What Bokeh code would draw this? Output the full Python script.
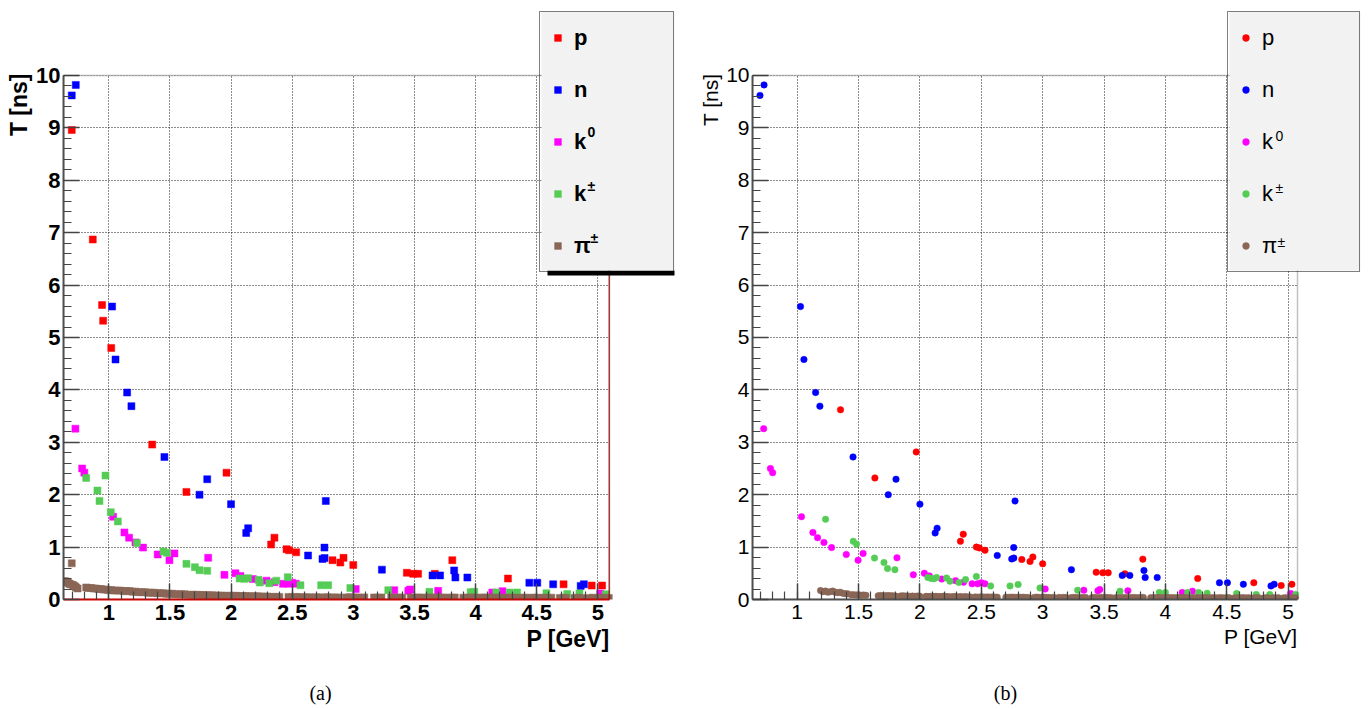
from bokeh.plotting import figure
from bokeh.models import (Range1d, SingleIntervalTicker, NumeralTickFormatter, Legend,
                          LegendItem, Label, BoxAnnotation, Title)
from bokeh.layouts import row, column
from bokeh.embed import file_html
from bokeh.resources import INLINE

# ---------------- data ----------------
# panel (a)
PROT_A_P = [0.697, 0.869, 0.945, 0.954, 1.02, 1.355, 1.635, 1.963, 2.328, 2.355,
            2.454, 2.475, 2.533, 2.83, 2.894, 2.92, 3.0, 3.438, 3.49, 3.53,
            3.667, 3.81, 4.265, 4.72, 4.95, 5.035]
PROT_A_T = [8.96, 6.87, 5.62, 5.32, 4.80, 2.956, 2.053, 2.42, 1.05, 1.18,
            0.96, 0.94, 0.90, 0.75, 0.705, 0.795, 0.66, 0.51, 0.49, 0.49,
            0.49, 0.75, 0.40, 0.29, 0.266, 0.266]

NEUT_P = [0.697, 0.73, 1.027, 1.055, 1.15, 1.185, 1.455, 1.742, 1.805, 2.0,
          2.124, 2.14, 2.63, 2.748, 2.764, 2.765, 2.775, 3.234, 3.648, 3.71,
          3.825, 3.835, 3.933, 4.44, 4.505, 4.635, 4.86, 4.886]
NEUT_T = [9.62, 9.82, 5.59, 4.58, 3.95, 3.69, 2.72, 2.0, 2.295, 1.82,
          1.27, 1.36, 0.84, 0.775, 0.99, 0.79, 1.88, 0.57, 0.46, 0.46,
          0.555, 0.42, 0.42, 0.32, 0.32, 0.29, 0.26, 0.29]

K0_P = [0.727, 0.782, 0.80, 1.035, 1.128, 1.166, 1.218, 1.28, 1.40, 1.496,
        1.537, 1.813, 1.946, 2.036, 2.077, 2.178, 2.29, 2.355, 2.425, 2.47,
        2.50, 2.53, 3.02, 3.335, 3.45, 3.465, 3.694, 4.137, 4.22, 5.02]
K0_T = [3.26, 2.50, 2.42, 1.58, 1.28, 1.18, 1.09, 0.99, 0.86, 0.75,
        0.88, 0.795, 0.47, 0.50, 0.45, 0.39, 0.36, 0.33, 0.30, 0.30,
        0.32, 0.30, 0.20, 0.178, 0.165, 0.19, 0.165, 0.134, 0.159, 0.115]

KPM_A_P = [0.815, 0.907, 0.924, 0.973, 1.016, 1.074, 1.23, 1.447, 1.477, 1.635,
           1.704, 1.742, 1.805, 2.07, 2.11, 2.14, 2.225, 2.235, 2.313, 2.37,
           2.464, 2.568, 2.737, 2.794, 2.976, 3.286, 3.623, 3.96, 3.99, 4.17,
           4.28, 4.34, 4.58, 4.75, 4.85, 5.065]
KPM_A_T = [2.32, 2.08, 1.88, 2.365, 1.665, 1.49, 1.08, 0.915, 0.89, 0.68,
           0.617, 0.56, 0.547, 0.40, 0.394, 0.407, 0.375, 0.324, 0.31, 0.36,
           0.426, 0.273, 0.273, 0.273, 0.22, 0.178, 0.146, 0.14, 0.146, 0.134,
           0.134, 0.134, 0.12, 0.107, 0.115, 0.10]

PI_A_P = [0.632, 0.641, 0.650, 0.659, 0.668, 0.677, 0.686, 0.697, 0.705, 0.714,
          0.723, 0.732, 0.745,
          0.815, 0.835, 0.855, 0.875, 0.895, 0.915, 0.935, 0.955, 0.975, 0.995,
          1.02, 1.045, 1.07, 1.095, 1.12, 1.145, 1.17, 1.195, 1.22, 1.245,
          1.27, 1.295, 1.32, 1.345, 1.37, 1.395, 1.42, 1.445, 1.47, 1.495,
          1.52, 1.545, 1.57, 1.595, 1.62, 1.645, 1.67, 1.695, 1.72, 1.745,
          1.77, 1.795, 1.82, 1.845, 1.87, 1.895, 1.92, 1.945, 1.97, 1.995,
          2.02, 2.045, 2.07, 2.095, 2.12, 2.145, 2.17, 2.195, 2.22, 2.245,
          2.27, 2.295, 2.32, 2.345, 2.37, 2.395,
          2.47, 2.50, 2.53, 2.56, 2.59, 2.62, 2.645, 2.70, 2.73, 2.76,
          2.79, 2.82, 2.85, 2.875, 2.94, 2.97, 3.00, 3.03, 3.06, 3.09,
          3.17, 3.20, 3.23, 3.31, 3.34, 3.37, 3.40, 3.47, 3.50, 3.53,
          3.56, 3.59, 3.62, 3.65, 3.68, 3.71, 3.74, 3.77, 3.80, 3.83,
          3.90, 3.93, 3.96, 3.99, 4.02, 4.05, 4.08, 4.11, 4.14, 4.17,
          4.20, 4.23, 4.26, 4.29, 4.32, 4.35, 4.38, 4.41, 4.44, 4.47,
          4.50, 4.53, 4.56, 4.59, 4.62, 4.69, 4.72, 4.74, 4.81, 4.84,
          4.87, 4.93, 4.96, 5.00, 5.03, 5.06, 5.09]
PI_A_T = [0.34, 0.35, 0.33, 0.34, 0.32, 0.30, 0.29, 0.69, 0.28, 0.26,
          0.25, 0.23, 0.21,
          0.23, 0.22, 0.22, 0.21, 0.21, 0.20, 0.20, 0.19, 0.19, 0.18,
          0.18, 0.17, 0.17, 0.17, 0.16, 0.16, 0.16, 0.15, 0.15, 0.14,
          0.14, 0.14, 0.13, 0.13, 0.13, 0.12, 0.12, 0.12, 0.11, 0.11,
          0.11, 0.10, 0.10, 0.10, 0.10, 0.09, 0.09, 0.09, 0.09, 0.085,
          0.085, 0.08, 0.08, 0.08, 0.075, 0.075, 0.075, 0.07, 0.07, 0.07,
          0.07, 0.07, 0.065, 0.065, 0.065, 0.06, 0.06, 0.06, 0.06, 0.055,
          0.055, 0.055, 0.05, 0.05, 0.05, 0.05,
          0.05, 0.045, 0.05, 0.045, 0.045, 0.04, 0.045, 0.045, 0.04, 0.04,
          0.045, 0.04, 0.04, 0.04, 0.04, 0.045, 0.04, 0.04, 0.035, 0.04,
          0.04, 0.035, 0.04, 0.04, 0.035, 0.04, 0.035, 0.04, 0.035, 0.04,
          0.035, 0.035, 0.04, 0.035, 0.035, 0.04, 0.035, 0.035, 0.035, 0.04,
          0.035, 0.035, 0.04, 0.035, 0.035, 0.035, 0.04, 0.035, 0.035, 0.035,
          0.035, 0.03, 0.035, 0.035, 0.035, 0.03, 0.035, 0.035, 0.03, 0.035,
          0.035, 0.03, 0.035, 0.03, 0.035, 0.03, 0.035, 0.03, 0.03, 0.035,
          0.03, 0.03, 0.035, 0.03, 0.03, 0.035, 0.03]

# panel (b)
PROT_B_P = [1.353, 1.633, 1.97, 2.33, 2.353, 2.46, 2.484, 2.53, 2.83, 2.897,
            2.92, 3.0, 3.436, 3.49, 3.534, 3.67, 3.816, 4.263, 4.72, 4.943,
            5.03]
PROT_B_T = [3.62, 2.32, 2.816, 1.11, 1.246, 1.0, 0.985, 0.94, 0.763, 0.725,
            0.81, 0.68, 0.52, 0.51, 0.51, 0.49, 0.77, 0.40, 0.32, 0.266,
            0.29]

KPM_B_P = [1.231, 1.457, 1.484, 1.63, 1.707, 1.736, 1.796, 2.065, 2.092, 2.114,
           2.136, 2.217, 2.245, 2.317, 2.372, 2.46, 2.576, 2.734, 2.80, 2.978,
           3.285, 3.63, 3.95, 4.0, 4.18, 4.27, 4.34, 4.58, 4.74, 4.85,
           5.06]
KPM_B_T = [1.53, 1.11, 1.055, 0.79, 0.705, 0.59, 0.57, 0.42, 0.40, 0.394,
           0.42, 0.41, 0.35, 0.325, 0.38, 0.44, 0.26, 0.26, 0.286, 0.22,
           0.178, 0.159, 0.134, 0.134, 0.134, 0.134, 0.12, 0.115, 0.096, 0.096,
           0.096]

PI_B_P = [1.19, 1.21, 1.23, 1.25, 1.27, 1.29, 1.31, 1.33, 1.35, 1.37,
          1.39, 1.41, 1.44, 1.46, 1.48, 1.50, 1.52, 1.54, 1.56, 1.66,
          1.68, 1.70, 1.72, 1.74, 1.76, 1.78, 1.80, 1.84, 1.86, 1.88,
          1.90, 1.92, 1.94, 1.96, 1.98, 2.00, 2.05, 2.07, 2.09, 2.11,
          2.13, 2.15, 2.17, 2.19, 2.21, 2.23, 2.25, 2.27, 2.29, 2.31,
          2.33, 2.35, 2.37, 2.39, 2.41, 2.45, 2.47, 2.49, 2.51, 2.53,
          2.55, 2.57, 2.59, 2.61, 2.63, 2.70, 2.72, 2.74, 2.76, 2.78,
          2.80, 2.82, 2.84, 2.86, 2.88, 2.93, 2.95, 2.97, 2.99, 3.01,
          3.03, 3.05, 3.07, 3.09, 3.13, 3.15, 3.17, 3.19, 3.23, 3.25,
          3.27, 3.29, 3.31, 3.33, 3.35, 3.40, 3.42, 3.44, 3.46, 3.48,
          3.50, 3.52, 3.54, 3.56, 3.60, 3.62, 3.64, 3.66, 3.68, 3.70,
          3.72, 3.74, 3.76, 3.78, 3.80, 3.82, 3.88, 3.90, 3.92, 3.94,
          3.96, 3.98, 4.00, 4.02, 4.04, 4.06, 4.08, 4.10, 4.12, 4.14,
          4.16, 4.18, 4.20, 4.22, 4.24, 4.26, 4.28, 4.30, 4.32, 4.34,
          4.36, 4.38, 4.40, 4.42, 4.44, 4.46, 4.48, 4.50, 4.52, 4.56,
          4.58, 4.60, 4.62, 4.64, 4.66, 4.68, 4.72, 4.74, 4.76, 4.80,
          4.82, 4.84, 4.88, 4.90, 4.92, 4.96, 4.98, 5.02, 5.04, 5.06]
PI_B_T = [0.17, 0.15, 0.16, 0.14, 0.15, 0.16, 0.14, 0.13, 0.14, 0.12,
          0.11, 0.11, 0.09, 0.09, 0.085, 0.09, 0.08, 0.085, 0.08, 0.07,
          0.075, 0.07, 0.07, 0.075, 0.07, 0.07, 0.065, 0.065, 0.07, 0.065,
          0.065, 0.06, 0.065, 0.06, 0.065, 0.06, 0.06, 0.055, 0.06, 0.055,
          0.06, 0.055, 0.055, 0.06, 0.055, 0.055, 0.05, 0.055, 0.055, 0.05,
          0.055, 0.05, 0.055, 0.05, 0.05, 0.05, 0.045, 0.05, 0.05, 0.045,
          0.05, 0.045, 0.05, 0.045, 0.045, 0.045, 0.04, 0.045, 0.045, 0.04,
          0.045, 0.04, 0.045, 0.04, 0.04, 0.04, 0.045, 0.04, 0.04, 0.045,
          0.04, 0.04, 0.035, 0.04, 0.04, 0.035, 0.04, 0.04, 0.035, 0.04,
          0.04, 0.035, 0.04, 0.035, 0.04, 0.035, 0.04, 0.035, 0.035, 0.04,
          0.035, 0.04, 0.035, 0.035, 0.04, 0.035, 0.035, 0.04, 0.035, 0.035,
          0.035, 0.04, 0.035, 0.035, 0.035, 0.04, 0.035, 0.035, 0.035, 0.04,
          0.035, 0.035, 0.035, 0.04, 0.035, 0.035, 0.035, 0.035, 0.04, 0.035,
          0.035, 0.035, 0.03, 0.035, 0.035, 0.035, 0.03, 0.035, 0.035, 0.035,
          0.03, 0.035, 0.035, 0.03, 0.035, 0.035, 0.03, 0.035, 0.035, 0.03,
          0.035, 0.03, 0.035, 0.035, 0.03, 0.035, 0.03, 0.035, 0.035, 0.03,
          0.035, 0.03, 0.035, 0.03, 0.035, 0.03, 0.035, 0.03, 0.035, 0.03]

LEGEND_BASE = ["p", "n", "k", "k", "\u03c0"]
LEGEND_SUP = [None, None, "0", "\u00b1", "\u00b1"]
X_TITLE = "P [GeV]"
Y_TITLE = "T [ns]"
CAPTIONS = ["(a)", "(b)"]
T_MAX = 10

COLORS = ["#ff0000", "#0000ff", "#ff00ff", "#55cc55", "#8a6656"]
FONT = "Liberation Sans"
SERIF = "Liberation Serif"
HAS_STANDOFF = "standoff" in Title.properties()

MAIN_H = 670      # main figure height (frame bottom at y=599)
CAP_H = 39        # caption strip height


def title(text, size, style, align, offset, standoff, font=FONT):
    kw = dict(text=text, text_font=font, text_font_size=size, text_font_style=style,
              align=align, offset=offset, text_color="black")
    if HAS_STANDOFF:
        kw["standoff"] = standoff
    return Title(**kw)


def screen_box(l, r, t, b, color):
    return BoxAnnotation(left=l, right=r, top=t, bottom=b,
                         left_units="screen", right_units="screen",
                         top_units="screen", bottom_units="screen",
                         fill_color=color, fill_alpha=1.0, line_color=None)


def panel(series, x0, x_data_end, x_end, left, width, bold, marker, msize, leg_lw,
          sup_pos, xt_off, tick_fs, title_fs, red_edge):
    style = "bold" if bold else "normal"
    y_end = 11.4305
    p = figure(width=width, height=MAIN_H, x_range=Range1d(x0, x_end),
               y_range=Range1d(0, y_end),
               output_backend="svg", toolbar_location=None,
               min_border_left=left, min_border_right=0,
               min_border_top=0, min_border_bottom=MAIN_H - 599)
    p.background_fill_color = "white"
    p.border_fill_color = "white"
    p.outline_line_color = None

    xt = SingleIntervalTicker(interval=0.5, num_minor_ticks=5)
    yt = SingleIntervalTicker(interval=1, num_minor_ticks=5)
    p.xaxis.ticker = xt
    p.yaxis.ticker = yt
    p.xgrid.ticker = xt
    p.ygrid.ticker = yt
    p.xaxis.bounds = (x0, x_data_end)
    p.yaxis.bounds = (0, T_MAX)
    p.xaxis.formatter = NumeralTickFormatter(format="0.[0]")
    p.yaxis.formatter = NumeralTickFormatter(format="0")
    for ax in (p.xaxis[0], p.yaxis[0]):
        ax.major_tick_in = 16
        ax.major_tick_out = 0
        ax.minor_tick_in = 8
        ax.minor_tick_out = 0
        ax.major_tick_line_color = "#444444"
        ax.minor_tick_line_color = "#444444"
        ax.major_tick_line_width = 1.5
        ax.minor_tick_line_width = 1.2
        ax.axis_line_color = "#555555"
        ax.axis_line_width = 2
        ax.major_label_text_font = FONT
        ax.major_label_text_font_size = tick_fs
        ax.major_label_text_font_style = style
        ax.major_label_text_color = "black"
    p.yaxis.major_label_standoff = 3
    p.xaxis.major_label_standoff = 5
    for g in (p.xgrid[0], p.ygrid[0]):
        g.grid_line_color = "black"
        g.grid_line_dash = "1 2"
        g.grid_line_width = 1
        g.grid_line_alpha = 0.9

    # hide grid outside the data box (the frame is enlarged to hold the legend)
    p.add_layout(BoxAnnotation(left=x0, right=x_end, bottom=T_MAX, top=y_end,
                               fill_color="white", fill_alpha=1.0, line_color=None,
                               level="underlay"))
    p.add_layout(BoxAnnotation(left=x_data_end, right=x_end, bottom=0, top=y_end,
                               fill_color="white", fill_alpha=1.0, line_color=None,
                               level="underlay"))

    renderers = []
    for (xs, ys), col in zip(series, COLORS):
        r = p.scatter(x=xs, y=ys, marker=marker, size=msize,
                      fill_color=col, line_color=col, line_width=0.5)
        renderers.append(r)

    # data box border
    p.add_layout(BoxAnnotation(left=x0, right=x_data_end, bottom=0, top=T_MAX,
                               fill_color=None, line_color="#333333", line_width=1.5))
    if red_edge:
        p.xaxis.axis_line_color = "#dd0000"
        p.add_layout(BoxAnnotation(left=x_data_end - 0.006, right=x_data_end,
                                   bottom=0, top=T_MAX, fill_color="#9a0000",
                                   fill_alpha=1.0, line_color="#9a0000", line_width=1))

    # legend geometry (screen px relative to frame left / bottom)
    frame_w = width - left
    leg_w = 18 + 17 + 8 + leg_lw
    leg_r = frame_w - 11
    leg_l = leg_r - leg_w
    leg_t = 599 - 11
    leg_b = leg_t - (18 + 5 * 33 + 4 * 19)
    if bold:
        p.add_layout(screen_box(leg_l + 6, leg_r, leg_b, leg_b - 5, "black"))
    p.add_layout(screen_box(leg_l, leg_r, leg_t, leg_b, "#f2f2f2"))

    items = [LegendItem(label=lab, renderers=[r]) for lab, r in zip(LEGEND_BASE, renderers)]
    leg = Legend(items=items, location="top_right", orientation="vertical",
                 padding=9, spacing=19, margin=11, glyph_width=17, glyph_height=33,
                 label_standoff=8, label_width=leg_lw, label_height=20,
                 border_line_color="black", border_line_width=1,
                 background_fill_alpha=0.0,
                 label_text_font=FONT, label_text_font_style=style,
                 label_text_font_size="22px", label_text_color="black")
    p.add_layout(leg)

    for s, pos in zip(LEGEND_SUP, sup_pos):
        if s:
            p.add_layout(Label(x=pos[0], y=pos[1], x_units="screen", y_units="screen",
                               text=s, text_font=FONT, text_font_size="14px",
                               text_font_style=style, text_align="left",
                               text_baseline="middle", text_color="black"))

    p.add_layout(title(X_TITLE, title_fs, style, "right", xt_off, 2), "below")
    p.add_layout(title(Y_TITLE, title_fs, style, "right", 73, 3), "left")
    return p


def caption_strip(width, text, cx):
    c = figure(width=width, height=CAP_H, x_range=Range1d(0, 1), y_range=Range1d(0, 1),
               output_backend="svg", toolbar_location=None,
               x_axis_type=None, y_axis_type=None,
               min_border_left=0, min_border_right=0, min_border_top=0,
               min_border_bottom=0)
    c.outline_line_color = None
    c.grid.visible = False
    c.add_layout(Label(x=cx, y=17, x_units="screen", y_units="screen", text=text,
                       text_font=SERIF, text_font_size="20px", text_align="center",
                       text_baseline="middle", text_color="black"))
    return c


pa = panel([(PROT_A_P, PROT_A_T), (NEUT_P, NEUT_T), (K0_P, K0_T),
            (KPM_A_P, KPM_A_T), (PI_A_P, PI_A_T)],
           0.6295, 5.096, 5.7174, 63, 685, True, "square", 7, 90,
           [None, None, (524, 468), (524, 414), (527, 362)], 76,
           "22px", "23px", True)

pb = panel([(PROT_B_P, PROT_B_T), (NEUT_P, NEUT_T), (K0_P, K0_T),
            (KPM_B_P, KPM_B_T), (PI_B_P, PI_B_T)],
           0.636, 5.076, 5.6788, 67, 686, False, "circle", 6.5, 88,
           [None, None, (523, 464), (523, 412), (525, 358)], 74,
           "21px", "21px", False)

ca = caption_strip(685, CAPTIONS[0], 320)
cb = caption_strip(686, CAPTIONS[1], 1005 - 685)

layout = column(row(pa, pb), row(ca, cb))
open("out.html", "w").write(file_html(layout, INLINE))
